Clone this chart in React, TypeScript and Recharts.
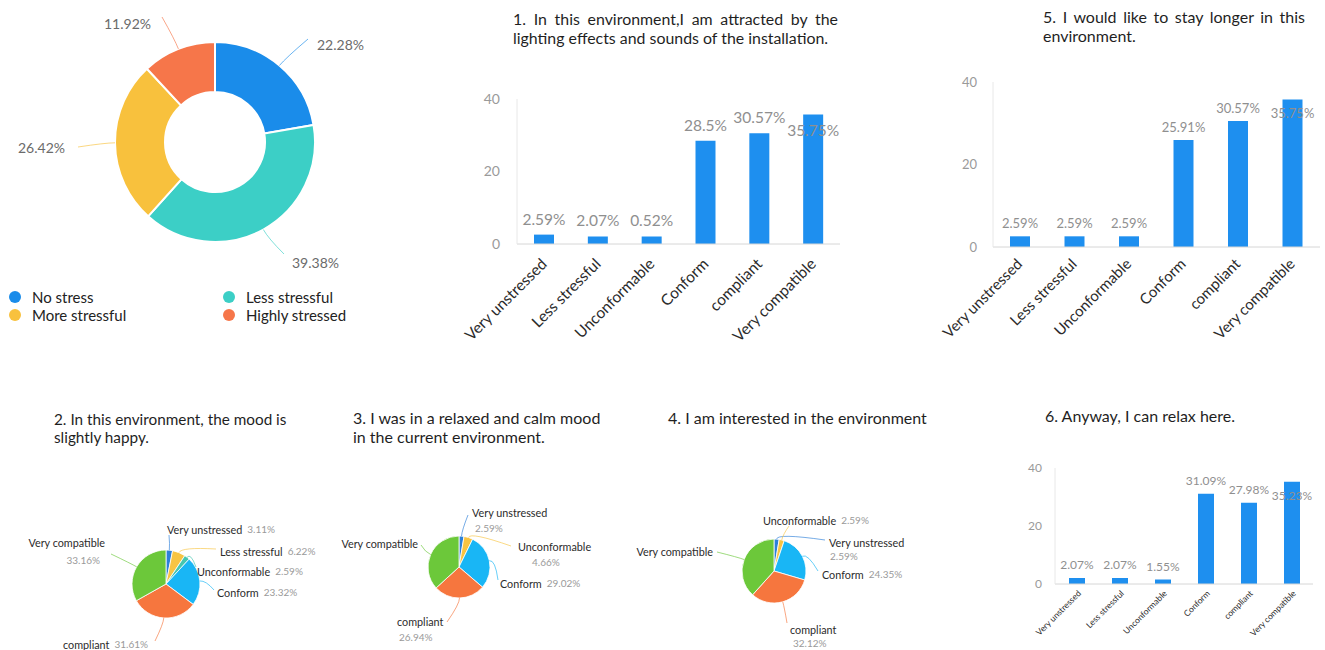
import React from 'react';
import { PieChart, Pie, Cell, BarChart, Bar, XAxis, YAxis, LabelList } from 'recharts';

const W = 1325;
const H = 650;
const FONT = 'Lato, "Open Sans", sans-serif';
const RAD = Math.PI / 180;

// ---------- data ----------
const stressNames = ['No stress', 'Less stressful', 'More stressful', 'Highly stressed'];
const stressValues = [22.28, 39.38, 26.42, 11.92];
const stressLabels = ['22.28%', '39.38%', '26.42%', '11.92%'];

const barCategories = ['Very unstressed', 'Less stressful', 'Unconformable', 'Conform', 'compliant', 'Very compatible'];
const q1Values = [2.59, 2.07, 2.07, 28.5, 30.57, 35.75];
const q1Labels = ['2.59%', '2.07%', '0.52%', '28.5%', '30.57%', '35.75%'];
const q5Values = [2.59, 2.59, 2.59, 25.91, 30.57, 35.75];
const q5Labels = ['2.59%', '2.59%', '2.59%', '25.91%', '30.57%', '35.75%'];
const q6Values = [2.07, 2.07, 1.55, 31.09, 27.98, 35.23];
const q6Labels = ['2.07%', '2.07%', '1.55%', '31.09%', '27.98%', '35.23%'];
const yTicks = [0, 20, 40];

const q2Names = ['Very unstressed', 'Less stressful', 'Unconformable', 'Conform', 'compliant', 'Very compatible'];
const q2Values = [3.11, 6.22, 2.59, 23.32, 31.61, 33.16];
const q2Labels = ['3.11%', '6.22%', '2.59%', '23.32%', '31.61%', '33.16%'];
const q3Names = ['Very unstressed', 'Unconformable', 'Conform', 'compliant', 'Very compatible'];
const q3Values = [2.59, 4.66, 29.02, 26.94, 36.79];
const q3Labels = ['2.59%', '4.66%', '29.02%', '26.94%', ''];
const q4Names = ['Very unstressed', 'Unconformable', 'Conform', 'compliant', 'Very compatible'];
const q4Values = [2.59, 2.59, 24.35, 32.12, 38.34];
const q4Labels = ['2.59%', '2.59%', '24.35%', '32.12%', ''];

// ---------- styles ----------
const stressColors = ['#1a8cea', '#3ccfc6', '#f8c13d', '#f6764a'];
const pie2Colors = ['#2c80d8', '#f7c443', '#45c6b0', '#19b6f5', '#f6763e', '#6cc83a'];
const pie5Colors = ['#2c80d8', '#f7c443', '#19b6f5', '#f6763e', '#6cc83a'];
const BAR_BLUE = '#1e8fef';

type LL = { x: number; y: number; a: 'start' | 'end'; s?: boolean; px?: number; py?: number; lx: number; ly: number };

const donutLayout: LL[] = [
  { x: 102, y: -98, a: 'start', lx: 93, ly: -103 },
  { x: 77, y: 120, a: 'start', lx: 69, ly: 112 },
  { x: -150, y: 5, a: 'end', lx: -137, ly: 5 },
  { x: -64, y: -119, a: 'end', lx: -53, ly: -125 },
];
const pie2Layout: LL[] = [
  { x: 1, y: -55, a: 'start', lx: 3, ly: -49 },
  { x: 54, y: -33, a: 'start', lx: 50, ly: -35 },
  { x: 31, y: -13, a: 'start', lx: 30, ly: -17 },
  { x: 51, y: 8, a: 'start', lx: 48, ly: 6 },
  { x: -18, y: 60, a: 'end', lx: -11, ly: 57 },
  { x: -61, y: -42, a: 'end', s: true, px: -66, py: 18, lx: -55, ly: -30 },
];
const pie3Layout: LL[] = [
  { x: 13, y: -55, a: 'start', s: true, px: 16, py: 16, lx: 9, ly: -52 },
  { x: 59, y: -21, a: 'start', s: true, px: 73, py: 16, lx: 52, ly: -21 },
  { x: 41, y: 16, a: 'start', lx: 39, ly: 13 },
  { x: -62, y: 54, a: 'start', s: true, px: -60, py: 16, lx: -12, ly: 55 },
  { x: -41, y: -24, a: 'end', lx: -38, ly: -22 },
];
const pie4Layout: LL[] = [
  { x: 55, y: -29, a: 'start', s: true, px: 56, py: 14, lx: 51, ly: -31 },
  { x: -11, y: -51, a: 'start', lx: 15, ly: -45 },
  { x: 48, y: 3, a: 'start', lx: 44, ly: 0 },
  { x: 16, y: 58, a: 'start', s: true, px: 19, py: 14, lx: 13, ly: 52 },
  { x: -61, y: -20, a: 'end', lx: -57, ly: -19 },
];

function makePieLabel(layout: LL[], names: string[] | null, pcts: string[], colors: string[], nameFs: number, pctFs: number, pctColor: string, ext: number) {
  return (props: any) => {
    const { cx, cy, midAngle, outerRadius, index } = props;
    const L = layout[index];
    if (!L) return null;
    const c = Math.cos(-midAngle * RAD);
    const s = Math.sin(-midAngle * RAD);
    const x0 = cx + outerRadius * c;
    const y0 = cy + outerRadius * s;
    const x1 = cx + (outerRadius + ext) * c;
    const y1 = cy + (outerRadius + ext) * s;
    const ex = cx + L.lx;
    const ey = cy + L.ly;
    const tx = cx + L.x;
    const ty = cy + L.y;
    const name = names ? names[index] : '';
    const pct = pcts[index];
    return (
      <g>
        <path d={`M${x0},${y0} Q${x1},${y1} ${ex},${ey}`} fill="none" stroke={colors[index]} strokeOpacity={0.65} strokeWidth={1} />
        {L.s ? (
          <g>
            <text x={tx} y={ty} textAnchor={L.a} dominantBaseline="central" fontSize={nameFs} fill="#2b2b2b" fontFamily={FONT}>{name}</text>
            {pct ? (
              <text x={cx + (L.px ?? L.x)} y={ty + (L.py ?? 16)} textAnchor={L.a} dominantBaseline="central" fontSize={pctFs} fill={pctColor} fontFamily={FONT}>{pct}</text>
            ) : null}
          </g>
        ) : (
          <text x={tx} y={ty} textAnchor={L.a} dominantBaseline="central" fontFamily={FONT}>
            {name ? <tspan fontSize={nameFs} fill="#2b2b2b">{name}</tspan> : null}
            {pct ? <tspan fontSize={pctFs} fill={pctColor} dx={name ? 5 : 0}>{pct}</tspan> : null}
          </text>
        )}
      </g>
    );
  };
}

function SmallPie({ names, values, pcts, colors, layout, cx, cy, r }: any) {
  const data = names.map((n: string, i: number) => ({ name: n, value: values[i] }));
  return (
    <div style={{ position: 'absolute', left: 0, top: 0 }}>
      <PieChart width={W} height={H}>
        <Pie
          data={data}
          dataKey="value"
          nameKey="name"
          cx={cx}
          cy={cy}
          innerRadius={0}
          outerRadius={r}
          startAngle={90}
          endAngle={-270}
          stroke="#ffffff"
          strokeWidth={0.8}
          isAnimationActive={false}
          labelLine={false}
          label={makePieLabel(layout, names, pcts, colors, 10.8, 10, '#9a9a9a', 6)}
        >
          {data.map((d: any, i: number) => (
            <Cell key={d.name} fill={colors[i]} />
          ))}
        </Pie>
      </PieChart>
    </div>
  );
}

const makeTick = (fs: number, dx: number, dy: number) => (props: any) => {
  const { x, y, payload } = props;
  const ax = x + dx;
  const ay = y + dy;
  return (
    <text x={ax} y={ay} transform={`rotate(-45 ${ax} ${ay})`} textAnchor="end" fontSize={fs} fill="#2b2b2b" fontFamily={FONT}>
      {payload.value}
    </text>
  );
};

function BarPanel({ values, labels, plot, barSize, tickFs, tickDx, tickDy, yFs, yMargin, lblFs, above, inside }: any) {
  const data = barCategories.map((c, i) => ({ name: c, v: values[i] }));
  const maxIdx = values.indexOf(Math.max(...values));
  const yW = 40;
  const xH = 100;
  const content = (p: any) => {
    const { x, y, width, index } = p;
    const cyy = index === maxIdx ? y + inside : y - above;
    return (
      <text x={x + width / 2} y={cyy} textAnchor="middle" dominantBaseline="central" fontSize={lblFs} fill="#8f8f8f" fontFamily={FONT}>
        {labels[index]}
      </text>
    );
  };
  return (
    <div style={{ position: 'absolute', left: 0, top: 0 }}>
      <BarChart
        width={W}
        height={H}
        data={data}
        margin={{ top: plot.t, left: plot.l - yW, right: W - plot.r, bottom: H - plot.b - xH }}
        barCategoryGap={0}
      >
        <XAxis
          dataKey="name"
          height={xH}
          interval={0}
          axisLine={{ stroke: '#d6d6d6' }}
          tickLine={false}
          tick={makeTick(tickFs, tickDx, tickDy)}
        />
        <YAxis
          width={yW}
          domain={[0, 40]}
          ticks={yTicks}
          axisLine={{ stroke: '#e8e8e8' }}
          tickLine={false}
          tickMargin={yMargin}
          tick={{ fontSize: yFs, fill: '#9a9a9a', fontFamily: FONT }}
        />
        <Bar dataKey="v" fill={BAR_BLUE} barSize={barSize} isAnimationActive={false}>
          <LabelList dataKey="v" content={content} />
        </Bar>
      </BarChart>
    </div>
  );
}

const titleStyle: React.CSSProperties = {
  position: 'absolute',
  fontFamily: FONT,
  color: '#1f1f1f',
  whiteSpace: 'nowrap',
};

function JustTitle({ left, top, width, lines, fs, lh }: any) {
  return (
    <div style={{ ...titleStyle, left, top, width, fontSize: fs, lineHeight: `${lh}px`, whiteSpace: 'normal' }}>
      {lines.map((l: string, i: number) => (
        <div key={i} style={i < lines.length - 1 ? { textAlign: 'justify', textAlignLast: 'justify' } : { textAlign: 'left' }}>
          {l}
        </div>
      ))}
    </div>
  );
}

export default function App() {
  const donutData = stressNames.map((n, i) => ({ name: n, value: stressValues[i] }));
  return (
    <div style={{ position: 'absolute', left: 0, top: 0, width: W, height: H, background: '#ffffff', overflow: 'hidden' }}>
      {/* Donut */}
      <div style={{ position: 'absolute', left: 0, top: 0 }}>
        <PieChart width={W} height={H}>
          <Pie
            data={donutData}
            dataKey="value"
            nameKey="name"
            cx={210}
            cy={137}
            innerRadius={50}
            outerRadius={100}
            startAngle={90}
            endAngle={-270}
            stroke="#ffffff"
            strokeWidth={2}
            isAnimationActive={false}
            labelLine={false}
            label={makePieLabel(donutLayout, null, stressLabels, stressColors, 14, 14, '#6b6b6b', 10)}
          >
            {donutData.map((d, i) => (
              <Cell key={d.name} fill={stressColors[i]} />
            ))}
          </Pie>
        </PieChart>
      </div>
      {/* Donut legend */}
      {stressNames.map((n, i) => (
        <div
          key={n}
          style={{
            position: 'absolute',
            left: i % 2 === 0 ? 9 : 223,
            top: i < 2 ? 287 : 305,
            height: 20,
            display: 'flex',
            alignItems: 'center',
            fontFamily: FONT,
            fontSize: 15,
            color: '#222',
          }}
        >
          <span style={{ display: 'inline-block', width: 12, height: 12, borderRadius: 6, background: stressColors[i], marginRight: 11 }} />
          {n}
        </div>
      ))}

      {/* Titles */}
      <JustTitle left={513} top={9} width={325} fs={15.9} lh={19} lines={['1. In this environment,I am attracted by the', 'lighting effects and sounds of the installation.']} />
      <JustTitle left={1043} top={7} width={262} fs={16} lh={19} lines={['5. I would like to stay longer in this', 'environment.']} />
      <div style={{ ...titleStyle, left: 54, top: 410, fontSize: 15.3, lineHeight: '18px' }}>
        2. In this environment, the mood is<br />slightly happy.
      </div>
      <div style={{ ...titleStyle, left: 353, top: 408, fontSize: 16, lineHeight: '19px' }}>
        3. I was in a relaxed and calm mood<br />in the current environment.
      </div>
      <div style={{ ...titleStyle, left: 668, top: 408, fontSize: 16, lineHeight: '19px' }}>
        4. I am interested in the environment
      </div>
      <div style={{ ...titleStyle, left: 1045, top: 406, fontSize: 16, lineHeight: '19px' }}>
        6. Anyway, I can relax here.
      </div>

      {/* Bar charts */}
      <BarPanel values={q1Values} labels={q1Labels} plot={{ l: 517, r: 840, t: 99, b: 244 }} barSize={20} tickFs={15.5} tickDx={4} tickDy={13} yFs={14} yMargin={11} lblFs={15.5} above={16} inside={16} />
      <BarPanel values={q5Values} labels={q5Labels} plot={{ l: 993, r: 1320, t: 82, b: 247 }} barSize={20} tickFs={15} tickDx={3} tickDy={10} yFs={13} yMargin={10} lblFs={13} above={13} inside={13} />
      <BarPanel values={q6Values} labels={q6Labels} plot={{ l: 1055, r: 1313, t: 468, b: 584 }} barSize={16} tickFs={8.5} tickDx={5} tickDy={2} yFs={12} yMargin={7} lblFs={12} above={13} inside={14} />

      {/* Small pies */}
      <SmallPie names={q2Names} values={q2Values} pcts={q2Labels} colors={pie2Colors} layout={pie2Layout} cx={161} cy={579} r={34} />
      <SmallPie names={q3Names} values={q3Values} pcts={q3Labels} colors={pie5Colors} layout={pie3Layout} cx={454} cy={562} r={31} />
      <SmallPie names={q4Names} values={q4Values} pcts={q4Labels} colors={pie5Colors} layout={pie4Layout} cx={769} cy={566} r={32} />
    </div>
  );
}
